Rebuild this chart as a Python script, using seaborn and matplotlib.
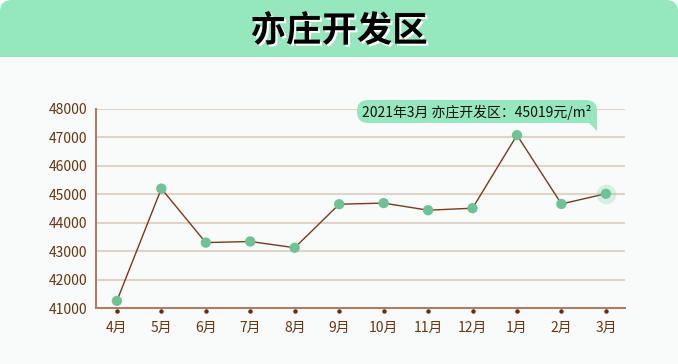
import matplotlib
matplotlib.use("Agg")
import matplotlib.pyplot as plt
import matplotlib.patheffects as pe
import matplotlib.transforms as mtrans
from matplotlib.patches import FancyBboxPatch, Polygon, Rectangle
import pandas as pd
import seaborn as sns

months = ["4月", "5月", "6月", "7月", "8月", "9月", "10月", "11月", "12月", "1月", "2月", "3月"]
prices = [41250, 45200, 43300, 43340, 43120, 44650, 44690, 44440, 44510, 47080, 44660, 45019]
y_ticks = [41000, 42000, 43000, 44000, 45000, 46000, 47000, 48000]
title = "亦庄开发区"
tooltip = "2021年3月 亦庄开发区：45019元/m²"

sns.set_theme(style="white")
plt.rcParams["font.family"] = ["Noto Sans CJK SC", "DejaVu Sans"]

df = pd.DataFrame({"month": months, "price": prices, "pos": range(len(months))})

W, H = 678, 364
BG = "#f8fbf9"
GREEN = "#95e8bd"
fig = plt.figure(figsize=(W / 100, H / 100), dpi=100)
fig.patch.set_facecolor(BG)

# background layer in pixel coordinates
bg = fig.add_axes([0, 0, 1, 1], zorder=0)
bg.set_xlim(0, W)
bg.set_ylim(H, 0)
bg.axis("off")
bg.add_patch(FancyBboxPatch((0, 0), W, 80, boxstyle="round,pad=0,rounding_size=12",
                            facecolor=GREEN, edgecolor="none"))
bg.add_patch(Rectangle((0, 57), W, 2, facecolor="white", edgecolor="none"))
bg.add_patch(Rectangle((0, 59), W, H, facecolor=BG, edgecolor="none"))
bg.text(W / 2, 31, title, ha="center", va="center", fontsize=25.5, fontweight=900, color="black",
        path_effects=[pe.withSimplePatchShadow(offset=(1.5, -1.5), shadow_rgbFace="white", alpha=1)])

ax = fig.add_axes([96 / W, (H - 308) / H, (625 - 96) / W, (308 - 109) / H], zorder=1)
ax.patch.set_alpha(0)

for t in y_ticks[1:]:
    ax.axhline(t, color="#e2d3c8", lw=1.5, zorder=0)

sns.lineplot(data=df, x="pos", y="price", ax=ax, color="#7b3a1c", lw=1, zorder=2)
ax.scatter(df["pos"].iloc[-1], df["price"].iloc[-1], s=200, color="#6cc494", alpha=0.22, zorder=3, lw=0)
sns.scatterplot(data=df, x="pos", y="price", ax=ax, color="#6cc494", s=55, edgecolor="none", zorder=4)

# small dots under the x axis at each category
shift = ax.transData + mtrans.ScaledTranslation(0, -3 / 100, fig.dpi_scale_trans)
ax.plot(df["pos"], [y_ticks[0]] * len(df), "o", ms=2.2, color="#6b2e0a", clip_on=False,
        transform=shift, zorder=5)

ax.set_xlim(-0.47, 11.43)
ax.set_ylim(41000, 48000)
ax.set_yticks(y_ticks)
ax.set_xticks(range(len(months)))
ax.set_xticklabels(months)
ax.set_xlabel("")
ax.set_ylabel("")
ax.tick_params(axis="both", length=0, labelsize=10, colors="#6b3510")
ax.tick_params(axis="x", pad=9)
ax.tick_params(axis="y", pad=6)
for s in ["top", "right"]:
    ax.spines[s].set_visible(False)
for s in ["left", "bottom"]:
    ax.spines[s].set_color("#a8806a")
    ax.spines[s].set_linewidth(1.5)

# tooltip bubble on top
top = fig.add_axes([0, 0, 1, 1], zorder=3)
top.set_xlim(0, W)
top.set_ylim(H, 0)
top.axis("off")
top.add_patch(FancyBboxPatch((357, 100), 240, 23, boxstyle="round,pad=0,rounding_size=11",
                             facecolor=GREEN, edgecolor="none"))
top.add_patch(Polygon([[584, 118], [597, 112], [597, 131]], facecolor=GREEN, edgecolor="none"))
top.text(477, 112, tooltip, ha="center", va="center", fontsize=10, color="#111111")

fig.savefig("out.png", dpi=100, facecolor=fig.get_facecolor())
